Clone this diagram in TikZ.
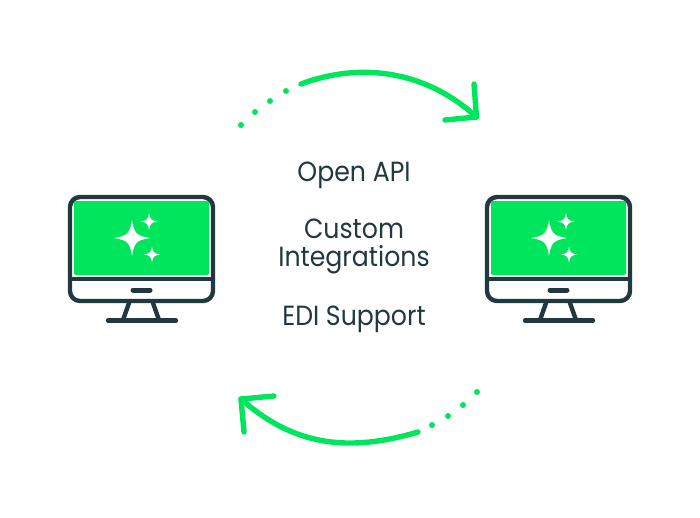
\documentclass[tikz,border=0pt]{standalone}
\usepackage{fontspec}
\setmainfont{Poppins}
\definecolor{grn}{HTML}{00E65C}
\definecolor{ink}{HTML}{22383F}
\newcommand{\tallfont}[1]{\scalebox{1}[1.1]{#1}}
\tikzset{
  x=1pt,y=-1pt,
  frameline/.style={draw=ink,line width=4.4pt,line cap=round,line join=round},
  flow/.style={draw=grn,line width=5.4pt,line cap=round,line join=round},
  dotmark/.style={circle,fill=grn,inner sep=0pt,minimum size=6pt},
  label/.style={text=ink,font=\fontsize{25.2}{25.2}\selectfont,anchor=base,inner sep=0pt},
  pics/sparkle/.style={code={
    \fill[white] (-#1,0) .. controls (-0.25*#1,-0.12*#1) and (-0.12*#1,-0.25*#1) .. (0,-#1)
      .. controls (0.12*#1,-0.25*#1) and (0.25*#1,-0.12*#1) .. (#1,0)
      .. controls (0.25*#1,0.12*#1) and (0.12*#1,0.25*#1) .. (0,#1)
      .. controls (-0.12*#1,0.25*#1) and (-0.25*#1,0.12*#1) .. (-#1,0) -- cycle;
  }},
  pics/monitor/.style={code={
    \fill[grn,rounded corners=2pt] (74,201) rectangle (209,275);
    \draw[frameline,rounded corners=10pt] (70,197) rectangle (213,301);
    \draw[frameline] (70,279) -- (213,279);
    \draw[frameline,line width=5pt] (133,290) -- (150,290);
    \draw[frameline] (129,303) -- (123,320);
    \draw[frameline] (153,303) -- (159,320);
    \draw[frameline] (108,320.5) -- (176,320.5);
    \pic at (132,238) {sparkle=18};
    \pic at (149,221.5) {sparkle=8.5};
    \pic at (152,254.5) {sparkle=8};
  }}
}
\begin{document}
\begin{tikzpicture}
\useasboundingbox (0,0) rectangle (700,517);
\pic at (0,0) {monitor};
\pic at (417,0) {monitor};
\node[label] (t1) at (354,181) {\tallfont{Open API}};
\node[label] (t2) at (354,238) {\tallfont{Custom}};
\node[label] (t3) at (354,266) {\tallfont{Integrations}};
\node[label] (t4) at (354,325) {\tallfont{EDI Support}};
% upper arrow
\coordinate (ua) at (301,84);
\coordinate (ub) at (476.5,117);
\coordinate (uc) at (474,84);
\coordinate (ud) at (445,120);
\draw[flow] (ua) .. controls (360,62) and (425,70) .. (ub);
\draw[flow] (uc) -- (ub) -- (ud);
\foreach \n/\p in {1/{241,125},2/{255,112},3/{270,101},4/{286,91}}
  \node[dotmark] (ud\n) at (\p) {};
% lower arrow
\coordinate (la) at (418,432);
\coordinate (lb) at (241,399);
\coordinate (lc) at (274,396);
\coordinate (ld) at (244,432);
\draw[flow] (la) .. controls (350,452) and (295,447) .. (lb);
\draw[flow] (lc) -- (lb) -- (ld);
\foreach \n/\p in {1/{432,425},2/{448,416},3/{463,405},4/{477,392}}
  \node[dotmark] (ld\n) at (\p) {};
\end{tikzpicture}
\end{document}
